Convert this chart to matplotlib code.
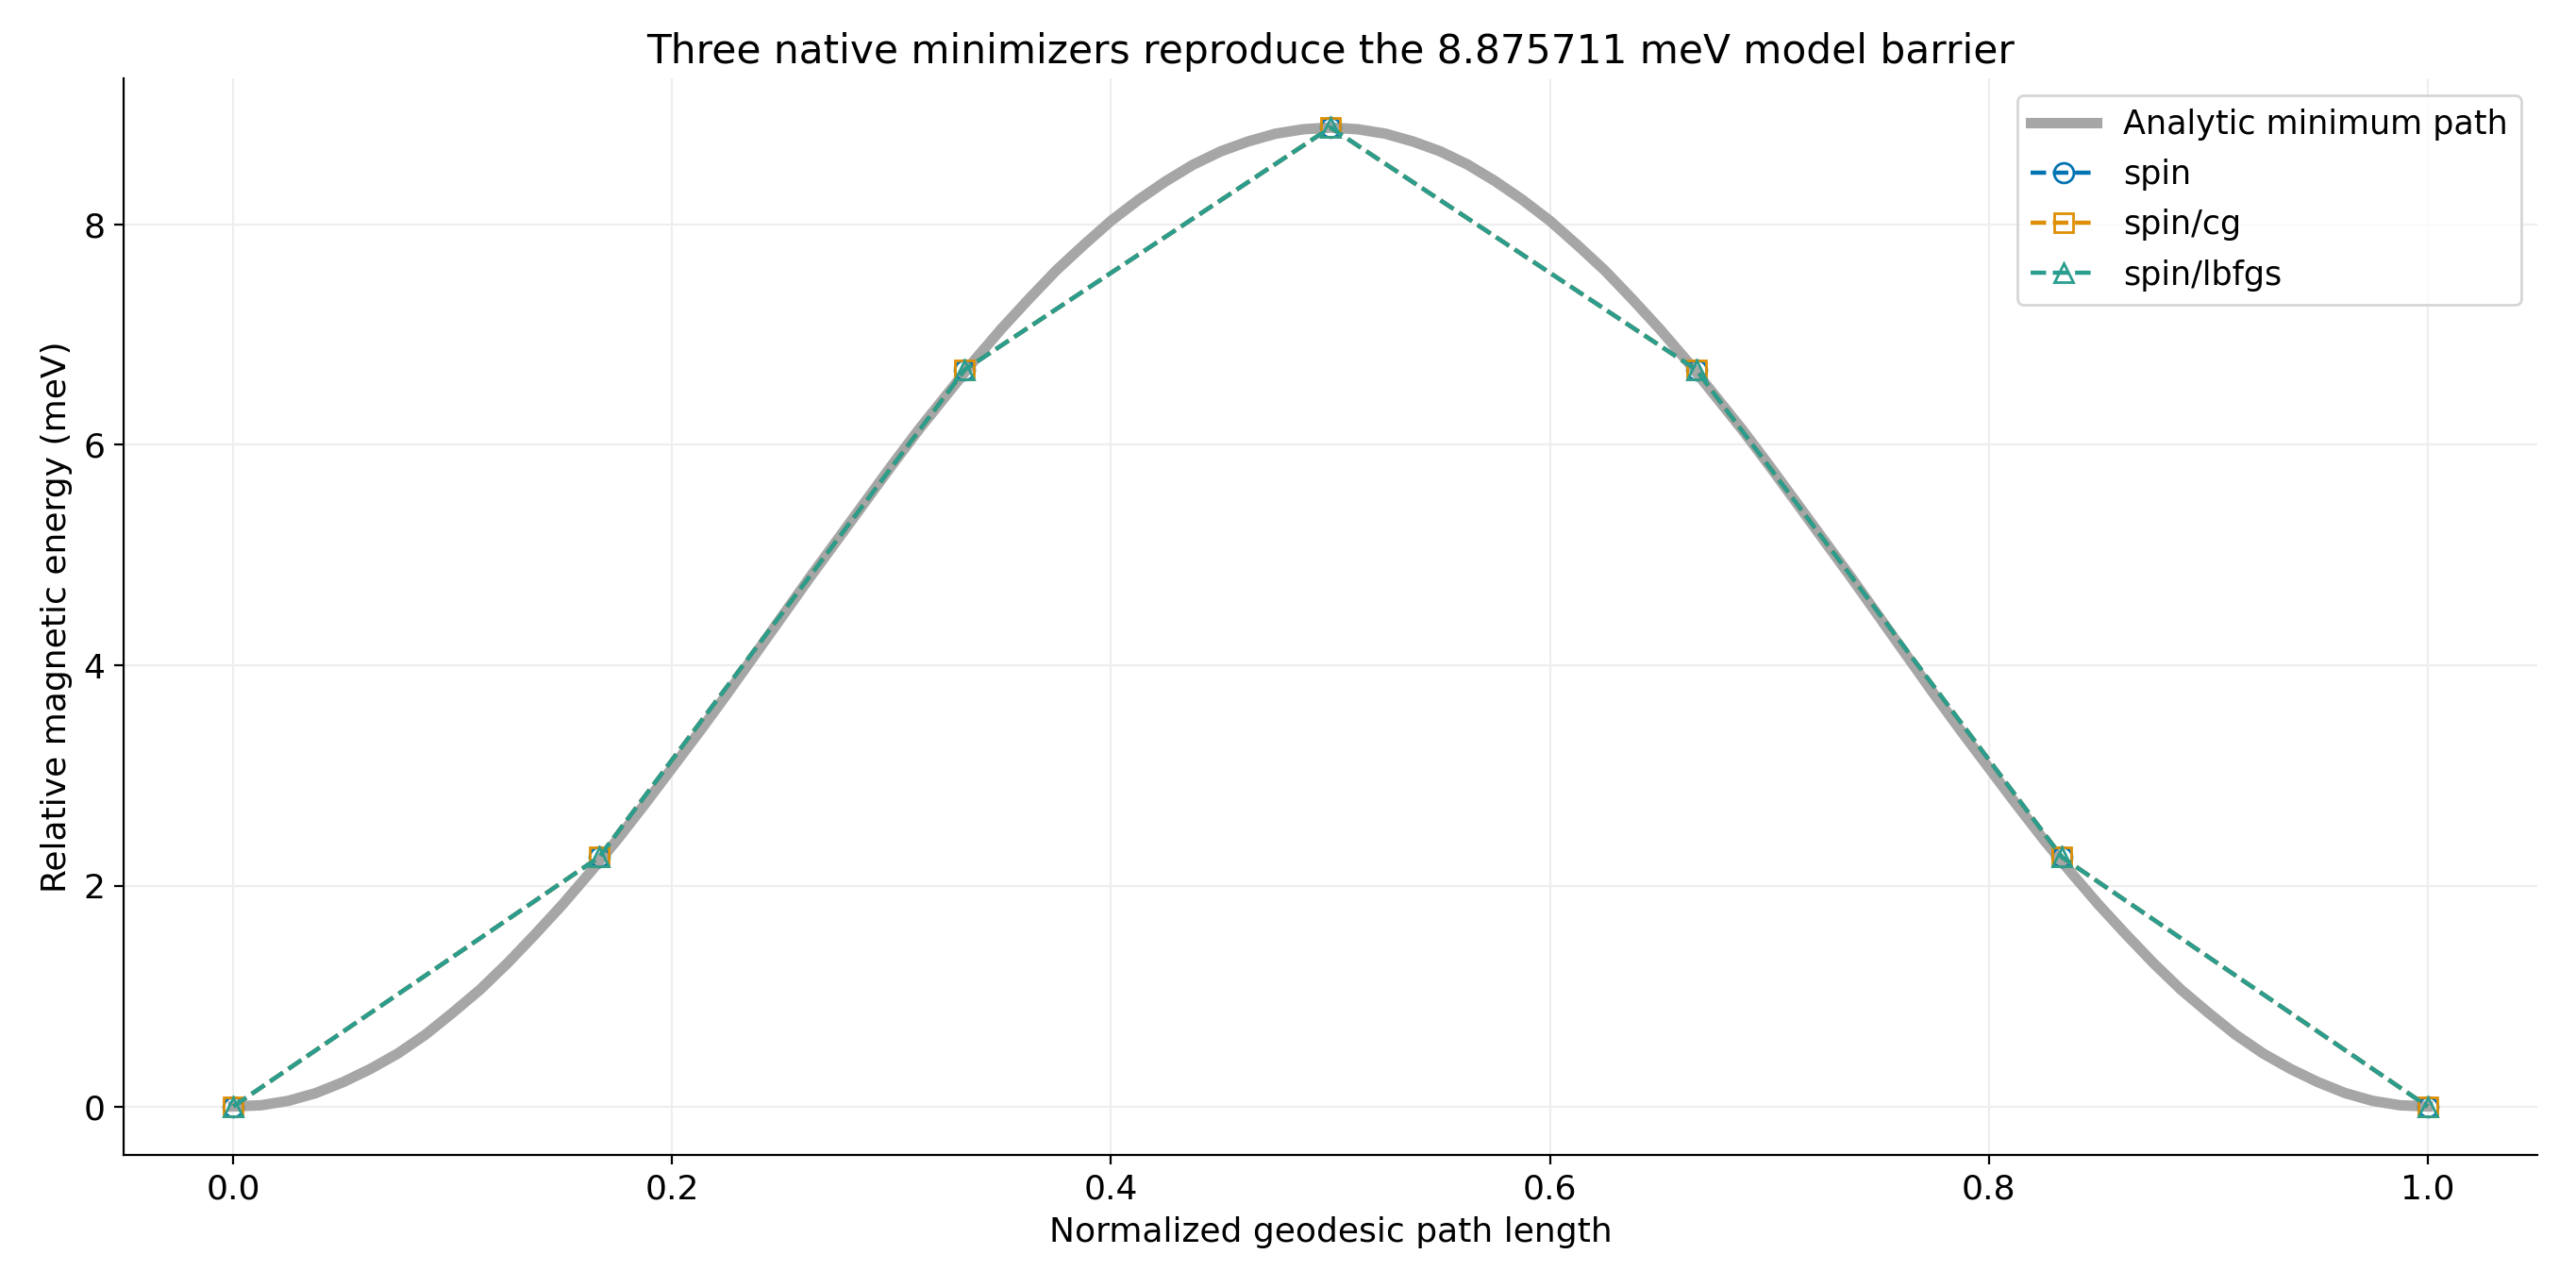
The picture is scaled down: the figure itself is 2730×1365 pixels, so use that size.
import numpy as np
import matplotlib.pyplot as plt

# analytic minimum path
s_path = np.linspace(0, 1, 81)
e_path = [0.00, 0.01, 0.05, 0.12, 0.22, 0.34, 0.48, 0.65, 0.85, 1.06,
          1.30, 1.56, 1.83, 2.12, 2.42, 2.74, 3.07, 3.40, 3.74, 4.09,
          4.44, 4.79, 5.13, 5.47, 5.81, 6.14, 6.45, 6.76, 7.05, 7.32,
          7.58, 7.81, 8.03, 8.22, 8.39, 8.54, 8.66, 8.75, 8.82, 8.86,
          8.876,
          8.86, 8.82, 8.75, 8.66, 8.54, 8.39, 8.22, 8.03, 7.81, 7.58,
          7.32, 7.05, 6.76, 6.45, 6.14, 5.81, 5.47, 5.13, 4.79, 4.44,
          4.09, 3.74, 3.40, 3.07, 2.74, 2.42, 2.12, 1.83, 1.56, 1.30,
          1.06, 0.85, 0.65, 0.48, 0.34, 0.22, 0.12, 0.05, 0.01, 0.00]

# images along the path
s_img = [0.0, 1/6, 1/3, 0.5, 2/3, 5/6, 1.0]
e_spin = [0.0, 2.26, 6.68, 8.876, 6.68, 2.26, 0.0]
e_cg = [0.0, 2.26, 6.68, 8.876, 6.68, 2.26, 0.0]
e_lbfgs = [0.0, 2.26, 6.68, 8.876, 6.68, 2.26, 0.0]

fig, ax = plt.subplots(figsize=(13.65, 6.825), dpi=200)

ax.plot(s_path, e_path, color="#a6a6a6", lw=4, solid_joinstyle="round",
        label="Analytic minimum path", zorder=2)
ax.plot(s_img, e_spin, "--o", color="#0173b2", lw=1.6, ms=7.5, mfc="none", label="spin", zorder=3)
ax.plot(s_img, e_cg, "--s", color="#de8f05", lw=1.6, ms=7.5, mfc="none", label="spin/cg", zorder=4)
ax.plot(s_img, e_lbfgs, "--^", color="#2a9d8f", lw=1.6, ms=7.5, mfc="none", label="spin/lbfgs", zorder=5)

ax.set_title("Three native minimizers reproduce the 8.875711 meV model barrier", fontsize=15.2)
ax.set_xlabel("Normalized geodesic path length", fontsize=13)
ax.set_ylabel("Relative magnetic energy (meV)", fontsize=13)
ax.tick_params(labelsize=13)
ax.grid(True, color="#eeeeee", lw=0.8)
ax.set_axisbelow(True)
ax.spines["top"].set_visible(False)
ax.spines["right"].set_visible(False)
ax.legend(loc="upper right", fontsize=12.6, labelspacing=0.55)

fig.subplots_adjust(left=0.048, right=0.985, top=0.939, bottom=0.103)
fig.savefig("out.png")
